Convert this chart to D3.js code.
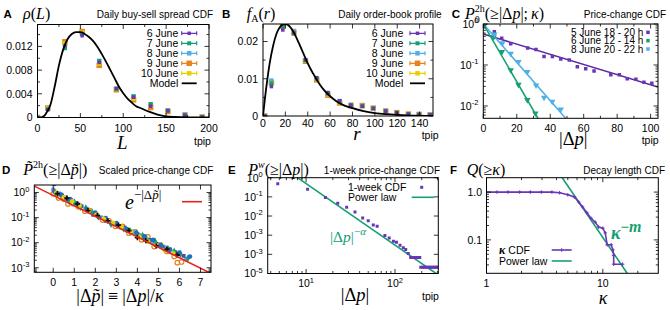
<!DOCTYPE html>
<html>
<head>
<meta charset="utf-8">
<script src="https://cdn.jsdelivr.net/npm/d3@7"></script>
<style>
  body { margin: 0; background: #fff; }
  svg { display: block; }
</style>
</head>
<body>
<script>
const d3 = window.d3;

// ---------------- data ----------------
// A: daily buy-sell spread distribution
const spreadL = [0, 12, 32, 52, 72, 92, 112, 132, 152, 172, 192];
const spreadJune6 = [0, 0.0013, 0.0121, 0.0138, 0.0093, 0.0049, 0.0034, 0.0019, 0.0011, 0.0004, 0.0001];
const spreadJune7 = [0, 0.0014, 0.0117, 0.0141, 0.0096, 0.0048, 0.0035, 0.0023, 0.0012, 0.0004, 0.0001];
const spreadJune8 = [0, 0.0015, 0.0123, 0.0142, 0.0095, 0.0049, 0.0036, 0.0022, 0.0012, 0.0005, 0.0001];
const spreadJune9 = [0, 0.0016, 0.0128, 0.0145, 0.0088, 0.0047, 0.0030, 0.0017, 0.0010, 0.0004, 0.0001];
const spreadJune10 = [0, 0.0015, 0.0125, 0.0143, 0.0091, 0.0048, 0.0032, 0.0020, 0.0011, 0.0004, 0.0001];
const spreadModelL = [0, 3, 8, 10, 15, 20, 25, 30, 35, 40, 45, 50, 55, 60, 65, 70, 75, 80, 85, 90, 95, 100, 105, 110, 115, 120, 130, 140, 150, 160, 180, 200];
const spreadModelRho = [0, 0, 0.0003, 0.0007, 0.0021, 0.0052, 0.0088, 0.0115, 0.0132, 0.0141, 0.0144, 0.0144, 0.0141, 0.0136, 0.0129, 0.0119, 0.0107, 0.0094, 0.0080, 0.0066, 0.0052, 0.0041, 0.0032, 0.0025, 0.0019, 0.0016, 0.0010, 0.0005, 0.0002, 0.0001, 0.00003, 0.00001];

// B: daily order-book profile
const profileR = [1.5, 7.5, 17.7, 27.6, 38, 48, 58, 68.5, 78.6, 88.8, 98.6, 109.7, 119.6, 130, 139.6, 149.4];
const profileJune6 = [0, 0.0079, 0.0231, 0.0224, 0.0151, 0.0103, 0.0063, 0.0041, 0.0029, 0.0026, 0.0020, 0.0013, 0.0009, 0.0005, 0.0004, 0.0003];
const profileJune7 = [0, 0.0088, 0.0240, 0.0221, 0.0149, 0.0100, 0.0060, 0.0039, 0.0029, 0.0027, 0.0021, 0.0014, 0.0009, 0.0005, 0.0004, 0.0003];
const profileJune8 = [0, 0.0095, 0.0242, 0.0228, 0.0150, 0.0100, 0.0061, 0.0040, 0.0030, 0.0027, 0.0020, 0.0013, 0.0009, 0.0005, 0.0004, 0.0003];
const profileJune9 = [0, 0.0089, 0.0241, 0.0224, 0.0147, 0.0097, 0.0056, 0.0035, 0.0028, 0.0028, 0.0021, 0.0013, 0.0009, 0.0005, 0.0004, 0.0003];
const profileJune10 = [0, 0.0088, 0.0240, 0.0223, 0.0148, 0.0099, 0.0058, 0.0037, 0.0029, 0.0027, 0.0020, 0.0013, 0.0009, 0.0005, 0.0004, 0.0003];
const profileModelR = [0, 3, 6, 9, 12, 15, 18, 21, 24, 28, 32, 36, 40, 45, 50, 55, 60, 65, 70, 80, 90, 100, 110, 120, 135, 152];
const profileModelF = [0, 0.0078, 0.0142, 0.0188, 0.0220, 0.0238, 0.0246, 0.0246, 0.0240, 0.0222, 0.0196, 0.0169, 0.0141, 0.0113, 0.0088, 0.0068, 0.0053, 0.0041, 0.0032, 0.0021, 0.0013, 0.0008, 0.0005, 0.0003, 0.0001, 0.00005];

// C: 2-hour price-change CDFs
const c5JuneDp = [6.6, 11, 16.4, 26.5, 31.5, 36.3, 41.3, 46.3, 51.4, 56.2, 61.2, 66.2, 76.2, 81.3, 86, 91.2, 96, 100.7];
const c5JuneP = [0.65, 0.45, 0.33, 0.26, 0.24, 0.16, 0.16, 0.14, 0.133, 0.091, 0.081, 0.071, 0.058, 0.058, 0.046, 0.045, 0.038, 0.036];
const c6JuneDp = [1, 6.2, 11.1, 16.4, 21, 26.3, 31.1];
const c6JuneP = [1.0, 0.48, 0.21, 0.075, 0.033, 0.014, 0.0066];
const c8JuneDp = [1, 6.6, 11.4, 16.4, 21, 26.3, 31.5, 36.3, 41.2, 46.3];
const c8JuneP = [1.0, 0.56, 0.34, 0.19, 0.12, 0.068, 0.032, 0.016, 0.0128, 0.0083];
const c5JuneFitDp = [0, 104.4];
const c5JuneFitP = [0.57, 0.029];
const c6JuneFitDp = [0, 32.7];
const c6JuneFitP = [1.0, 0.005];
const c8JuneFitDp = [0, 49.2];
const c8JuneFitP = [1.0, 0.005];

// D: scaled price-change CDFs, one list of [|dp~|, P~] per group of windows
const scaledPurple = [[0.05, 1.1], [0.35, 0.85], [0.6, 0.62], [0.85, 0.5], [1.1, 0.38], [1.35, 0.28], [1.6, 0.2], [1.9, 0.13], [2.2, 0.1], [2.5, 0.075], [2.8, 0.06], [3.1, 0.045], [3.4, 0.04], [3.7, 0.026], [4.0, 0.022], [4.3, 0.016], [4.6, 0.013], [4.9, 0.009], [5.2, 0.007], [5.5, 0.005], [5.8, 0.0042], [6.2, 0.003]];
const scaledGreen = [[0.1, 0.95], [0.45, 0.7], [0.75, 0.45], [1.0, 0.42], [1.3, 0.26], [1.55, 0.24], [1.85, 0.16], [2.15, 0.11], [2.45, 0.085], [2.75, 0.055], [3.05, 0.052], [3.35, 0.036], [3.65, 0.03], [3.95, 0.024], [4.25, 0.019], [4.55, 0.012], [4.85, 0.011], [5.15, 0.0075], [5.45, 0.0058], [5.75, 0.0045], [6.05, 0.0035], [6.4, 0.0024]];
const scaledSky = [[0.0, 1.3], [0.3, 0.9], [0.55, 0.55], [0.8, 0.47], [1.05, 0.33], [1.3, 0.3], [1.6, 0.21], [1.95, 0.15], [2.3, 0.1], [2.6, 0.07], [2.9, 0.056], [3.2, 0.04], [3.5, 0.03], [3.8, 0.028], [4.1, 0.02], [4.4, 0.015], [4.7, 0.01], [5.0, 0.0085], [5.3, 0.0065], [5.6, 0.0042], [5.9, 0.0036], [6.3, 0.0022]];
const scaledOrange = [[0.0, 0.9], [0.25, 0.6], [0.5, 0.55], [0.7, 0.35], [0.95, 0.36], [1.2, 0.27], [1.5, 0.18], [1.75, 0.19], [2.05, 0.13], [2.35, 0.08], [2.65, 0.075], [2.95, 0.045], [3.3, 0.045], [3.6, 0.024], [3.9, 0.027], [4.2, 0.013], [4.5, 0.017], [4.8, 0.007], [5.1, 0.008], [5.4, 0.0045], [5.75, 0.0028], [5.9, 0.0016], [6.1, 0.0017]];
const scaledYellow = [[0.15, 1.0], [0.5, 0.65], [0.9, 0.45], [1.25, 0.3], [1.7, 0.19], [2.05, 0.13], [2.4, 0.09], [2.85, 0.062], [3.25, 0.042], [3.7, 0.028], [4.1, 0.017], [4.5, 0.011], [4.9, 0.008], [5.3, 0.005], [5.7, 0.0038]];
const scaledBlack = [[0.2, 0.9], [0.65, 0.6], [1.15, 0.35], [1.65, 0.19], [2.1, 0.12], [2.6, 0.075], [3.1, 0.05], [3.6, 0.03], [4.0, 0.016], [4.4, 0.012], [4.9, 0.0075], [5.4, 0.0055], [5.9, 0.0032]];
const scaledBlue = [[0.05, 2.2], [0.4, 0.8], [0.8, 0.55], [1.2, 0.33], [1.6, 0.22], [2.0, 0.16], [2.5, 0.095], [3.0, 0.06], [3.5, 0.035], [3.95, 0.025], [4.35, 0.018], [4.75, 0.013], [5.1, 0.008], [5.55, 0.0055], [6.0, 0.004], [6.5, 0.0028]];
const scaledExpX = [-0.9, 7.5];
const scaledExpY = [1.8, 0.0006];

// E: 1-week price-change CDF
const weekDp = [4.8, 10.4, 16.5, 22.7, 28.6, 35.5, 43.3, 50, 57, 63, 77, 86, 96, 104, 114, 124, 132, 141,
  150, 155, 160, 165, 170, 175, 180, 185, 190,
  195, 205, 215, 225, 235, 245, 255, 265, 275, 285, 295, 305];
const weekP = [0.49, 0.25, 0.092, 0.047, 0.029, 0.016, 0.0079, 0.0057, 0.0034, 0.0029, 0.00095, 0.00072, 0.00048, 0.00043, 0.0003, 0.00022, 0.00018, 0.00011,
  6.8e-5, 6.8e-5, 6.8e-5, 6.8e-5, 6.8e-5, 6.8e-5, 6.8e-5, 6.8e-5, 6.8e-5,
  2.1e-5, 2.1e-5, 2.1e-5, 2.1e-5, 2.1e-5, 2.1e-5, 2.1e-5, 2.1e-5, 2.1e-5, 2.1e-5, 2.1e-5, 2.1e-5];
const weekPowDp = [8, 290];
const weekPowP = [1, 1e-5];
const weekYTickExp = ['0', '-1', '-2', '-3', '-3', '-5'];

// F: decay length CDF
const kappaVals = [1.0, 1.23, 1.53, 1.93, 2.38, 2.96, 3.65, 4.25, 5.0, 5.7, 6.2, 6.7, 7.3, 7.9, 8.6, 9.2, 10.0, 10.5, 10.9, 11.8, 12.2, 12.4, 12.4, 14.8];
const kappaQ = [1, 1, 1, 1, 1, 1, 1, 0.97, 0.88, 0.79, 0.62, 0.49, 0.37, 0.285, 0.235, 0.185, 0.176, 0.14, 0.079, 0.079, 0.062, 0.047, 0.031, 0.031];
const kappaPowK = [4.48, 16.2];
const kappaPowQ = [2, 0.02];

const dayNames = ['6 June', '7 June', '8 June', '9 June', '10 June'];
const windowNames = ['5 June 18 - 20 h', '6 June 12 - 14 h', '8 June 20 - 22 h'];

// ---------------- styles ----------------
const SANS = '"Liberation Sans", Arial, Helvetica, sans-serif';
const SERIF = '"Liberation Serif", "Times New Roman", serif';
const PURPLE = '#6a35b8';
const GREEN = '#14a070';
const SKY = '#4fb0e8';
const ORANGE = '#e6841c';
const YELLOW = '#e8cf00';
const DAY_COLORS = [PURPLE, GREEN, SKY, ORANGE, YELLOW];
const DAY_SIZES = [3.5, 4, 4.5, 5.5, 4.5];

const svg = d3.select('body').append('svg').attr('width', 670).attr('height', 310);

let clipCount = 0;
const makePanel = (box) => {
  const g = svg.append('g');
  const id = 'clip' + clipCount++;
  g.append('clipPath').attr('id', id).append('rect')
    .attr('x', box.x0).attr('y', box.y0)
    .attr('width', box.x1 - box.x0).attr('height', box.y1 - box.y0);
  const plot = g.append('g').attr('clip-path', `url(#${id})`);
  return { g, plot };
};

const logMinor = (lo, hi) => {
  const out = [];
  for (let e = Math.floor(Math.log10(lo)); e <= Math.ceil(Math.log10(hi)); e++) {
    for (let k = 2; k <= 9; k++) {
      const v = k * Math.pow(10, e);
      if (v > lo && v < hi) out.push(v);
    }
  }
  return out;
};

const drawTicks = (g, box, x, y, spec) => {
  let p = '';
  const tx = (vals, len) => (vals || []).forEach((v) => {
    const px = x(v);
    p += `M${px},${box.y1}V${box.y1 - len}M${px},${box.y0}V${box.y0 + len}`;
  });
  const ty = (vals, len) => (vals || []).forEach((v) => {
    const py = y(v);
    p += `M${box.x0},${py}H${box.x0 + len}M${box.x1},${py}H${box.x1 - len}`;
  });
  tx(spec.xMajor, 4.5); tx(spec.xMinor, 2.5);
  ty(spec.yMajor, 4.5); ty(spec.yMinor, 2.5);
  g.append('path').attr('d', p).attr('stroke', '#000').attr('stroke-width', 0.8).attr('fill', 'none');
  g.append('rect').attr('x', box.x0).attr('y', box.y0)
    .attr('width', box.x1 - box.x0).attr('height', box.y1 - box.y0)
    .attr('fill', 'none').attr('stroke', '#000').attr('stroke-width', 1);
};

const plainText = (g, x, y, str, o = {}) => g.append('text')
  .attr('x', x).attr('y', y)
  .attr('font-family', o.serif ? SERIF : SANS)
  .attr('font-size', o.size || 10.5)
  .attr('font-style', o.it ? 'italic' : 'normal')
  .attr('font-weight', o.bold ? 'bold' : 'normal')
  .attr('text-anchor', o.anchor || 'start')
  .attr('fill', o.fill || '#000')
  .text(str);

// text built from pieces: sub/superscripts, stacked pieces (hold)
const rich = (parent, x, y, parts, opt = {}) => {
  const grp = parent.append('g');
  let cx = 0, held = 0;
  parts.forEach((p) => {
    const t = grp.append('text')
      .attr('x', cx).attr('y', p.dy || 0)
      .attr('font-family', p.sans || opt.sans ? SANS : SERIF)
      .attr('font-size', p.size || opt.size || 16)
      .attr('font-style', p.it ? 'italic' : 'normal')
      .attr('font-weight', p.bold || opt.bold ? 'bold' : 'normal')
      .attr('fill', opt.fill || '#000')
      .text(p.t);
    const w = t.node().getComputedTextLength() + (p.gap || 0);
    if (p.hold) held = Math.max(held, w);
    else { cx += Math.max(w, held); held = 0; }
  });
  const shift = opt.anchor === 'end' ? cx : opt.anchor === 'middle' ? cx / 2 : 0;
  grp.attr('transform', `translate(${x - shift},${y})`);
  return grp;
};

const powLabel = (g, x, y, exp, anchor) => rich(g, x, y, [
  { t: '10' }, { t: exp, size: 7.5, dy: -4.5 },
], { sans: true, size: 10.5, anchor });

const header = (letter, lx, mathX, parts, title, titleEnd, base) => {
  plainText(svg, lx, base, letter, { bold: true, size: 11.5 });
  rich(svg, mathX, base + 0.5, parts, { size: 16 });
  plainText(svg, titleEnd, base - 0.5, title, { size: 10, anchor: 'end' });
};

const sym = (type, size) => d3.symbol().type(type).size(size * size)();

const pairs = (xs, ys) => xs.map((v, i) => [v, ys[i]]);

const drawMarkers = (g, data, x, y, shape, color, opt = {}) => {
  g.append('g').selectAll('path').data(data).join('path')
    .attr('transform', (d) => `translate(${x(d[0])},${y(d[1])})${opt.rotate ? 'rotate(180)' : ''}`)
    .attr('d', shape)
    .attr('fill', opt.hollow ? 'none' : color)
    .attr('stroke', opt.hollow || opt.stroke ? color : 'none')
    .attr('stroke-width', opt.sw || 1.1);
};

const drawLine = (g, data, x, y, color, width, curve) => {
  const line = d3.line().x((d) => x(d[0])).y((d) => y(d[1]));
  if (curve) line.curve(curve);
  g.append('path').datum(data).attr('d', line)
    .attr('fill', 'none').attr('stroke', color).attr('stroke-width', width);
};

// legend row for the daily panels: errorbar-like sample with a square
const dayLegend = (g, textEnd, x0, x1, cy, label, color, size) => {
  plainText(g, textEnd, cy + 3.8, label, { size: 10.5, anchor: 'end' });
  g.append('path').attr('d', `M${x0},${cy}H${x1}M${x0},${cy - 2}V${cy + 2}M${x1},${cy - 2}V${cy + 2}`)
    .attr('stroke', color).attr('stroke-width', 1.2).attr('fill', 'none');
  g.append('path').attr('transform', `translate(${(x0 + x1) / 2},${cy})`)
    .attr('d', sym(d3.symbolSquare, size)).attr('fill', color);
};

// ================= Panel A =================
{
  const box = { x0: 37.5, x1: 209, y0: 24.5, y1: 117.5 };
  const x = d3.scaleLinear().domain([0, 200]).range([box.x0, box.x1]);
  const y = d3.scaleLinear().domain([0, 0.0157]).range([box.y1, box.y0]);
  const { g, plot } = makePanel(box);
  const days = [spreadJune6, spreadJune7, spreadJune8, spreadJune9, spreadJune10];
  [3, 2, 4, 1, 0].forEach((k) => {
    drawMarkers(plot, pairs(spreadL, days[k]), x, y, sym(d3.symbolSquare, DAY_SIZES[k]), DAY_COLORS[k]);
  });
  drawLine(plot, pairs(spreadModelL, spreadModelRho), x, y, '#000', 1.8, d3.curveMonotoneX);
  drawTicks(g, box, x, y, {
    xMajor: [0, 50, 100, 150, 200], xMinor: [25, 75, 125, 175],
    yMajor: [0, 0.004, 0.008, 0.012], yMinor: [0.002, 0.006, 0.010, 0.014],
  });
  [0, 50, 100, 150, 200].forEach((v) => plainText(g, x(v), box.y1 + 14, String(v), { anchor: 'middle' }));
  [[0, '0'], [0.004, '0.004'], [0.008, '0.008'], [0.012, '0.012']].forEach(([v, s]) =>
    plainText(g, box.x0 - 5, y(v) + 3.8, s, { anchor: 'end' }));
  dayNames.forEach((n, i) => dayLegend(g, 178.3, 181.7, 196.7, 33.3 + 10 * i, n, DAY_COLORS[i], DAY_SIZES[i]));
  plainText(g, 178.3, 83.3 + 3.8, 'Model', { anchor: 'end' });
  g.append('path').attr('d', 'M181.7,83.3H196.7').attr('stroke', '#000').attr('stroke-width', 1.8);
  plainText(g, 122.3, 149, 'L', { serif: true, it: true, size: 19, anchor: 'middle' });
  plainText(g, 194, 144.5, 'tpip');
  header('A', 3.5, 23, [{ t: 'ρ', it: true }, { t: '(' }, { t: 'L', it: true }, { t: ')' }],
    'Daily buy-sell spread CDF', 213, 18);
}

// ================= Panel B =================
{
  const box = { x0: 263, x1: 433, y0: 24, y1: 116 };
  const x = d3.scaleLinear().domain([0, 152]).range([box.x0, box.x1]);
  const y = d3.scaleLinear().domain([0, 0.0247]).range([box.y1, box.y0]);
  const { g, plot } = makePanel(box);
  const days = [profileJune6, profileJune7, profileJune8, profileJune9, profileJune10];
  [3, 2, 4, 1, 0].forEach((k) => {
    drawMarkers(plot, pairs(profileR, days[k]), x, y, sym(d3.symbolSquare, DAY_SIZES[k]), DAY_COLORS[k]);
  });
  drawLine(plot, pairs(profileModelR, profileModelF), x, y, '#000', 1.8, d3.curveMonotoneX);
  const xt = [0, 20, 40, 60, 80, 100, 120, 140];
  drawTicks(g, box, x, y, { xMajor: xt, yMajor: [0, 0.01, 0.02], yMinor: [0.005, 0.015] });
  xt.forEach((v) => plainText(g, x(v), box.y1 + 11, String(v), { anchor: 'middle' }));
  [[0, '0'], [0.01, '0.01'], [0.02, '0.02']].forEach(([v, s]) =>
    plainText(g, box.x0 - 5, y(v) + 3.8, s, { anchor: 'end' }));
  dayNames.forEach((n, i) => dayLegend(g, 403.3, 410, 425, 33.3 + 10 * i, n, DAY_COLORS[i], DAY_SIZES[i]));
  plainText(g, 403.3, 83.3 + 3.8, 'Model', { anchor: 'end' });
  g.append('path').attr('d', 'M410,83.3H425').attr('stroke', '#000').attr('stroke-width', 1.8);
  plainText(g, 357, 139.5, 'r', { serif: true, it: true, size: 19, anchor: 'middle' });
  plainText(g, 421.7, 139, 'tpip');
  header('B', 222, 246.7, [{ t: 'f', it: true }, { t: 'A', size: 10, dy: 3 }, { t: '(' }, { t: 'r', it: true }, { t: ')' }],
    'Daily order-book profile', 441.7, 18);
}

// ================= Panel C =================
{
  const box = { x0: 483.3, x1: 658, y0: 24, y1: 118.3 };
  const x = d3.scaleLinear().domain([0, 104.4]).range([box.x0, box.x1]);
  const y = d3.scaleLog().domain([0.005, 1]).range([box.y1, box.y0]);
  const { g, plot } = makePanel(box);
  drawLine(plot, pairs(c5JuneFitDp, c5JuneFitP), x, y, '#5a2aa0', 1.6);
  drawLine(plot, pairs(c6JuneFitDp, c6JuneFitP), x, y, GREEN, 1.6);
  drawLine(plot, pairs(c8JuneFitDp, c8JuneFitP), x, y, SKY, 1.6);
  drawMarkers(plot, pairs(c5JuneDp, c5JuneP), x, y, sym(d3.symbolSquare, 3.5), PURPLE);
  drawMarkers(plot, pairs(c6JuneDp, c6JuneP), x, y, d3.symbol().type(d3.symbolTriangle).size(18)(), GREEN, { rotate: true });
  drawMarkers(plot, pairs(c8JuneDp, c8JuneP), x, y, d3.symbol().type(d3.symbolTriangle).size(18)(), SKY, { rotate: true });
  const xt = [0, 20, 40, 60, 80, 100];
  drawTicks(g, box, x, y, {
    xMajor: xt, xMinor: [10, 30, 50, 70, 90],
    yMajor: [1, 0.1, 0.01], yMinor: logMinor(0.005, 1),
  });
  xt.forEach((v) => plainText(g, x(v), box.y1 + 14, String(v), { anchor: 'middle' }));
  [[1, '0'], [0.1, '-1'], [0.01, '-2']].forEach(([v, e]) => powLabel(g, box.x0 - 5, y(v) + 3.8, e, 'end'));
  const legColors = [PURPLE, GREEN, SKY];
  windowNames.forEach((n, i) => {
    const cy = 32.3 + 8.35 * i;
    plainText(g, 643.3, cy + 3.6, n, { size: 10, anchor: 'end' });
    g.append('path').attr('transform', `translate(648,${cy})`).attr('d', sym(d3.symbolSquare, 3.5)).attr('fill', legColors[i]);
  });
  rich(g, 573.3, 144.5, [{ t: '|Δ' }, { t: 'p', it: true }, { t: '|' }], { size: 18.5, anchor: 'middle' });
  plainText(g, 641.7, 144, 'tpip');
  header('C', 451.7, 465, [
    { t: 'P', it: true }, { t: '2h', size: 10, dy: -7, hold: true }, { t: '0', size: 10, dy: 4 },
    { t: '(≥|Δ' }, { t: 'p', it: true }, { t: '|;', gap: 3 }, { t: 'κ', it: true }, { t: ')' },
  ], 'Price-change CDF', 666, 18);
}

// ================= Panel D =================
{
  const box = { x0: 34.3, x1: 211, y0: 185, y1: 272.3 };
  const x = d3.scaleLinear().domain([-0.9, 7.5]).range([box.x0, box.x1]);
  const y = d3.scaleLog().domain([Math.pow(10, -3.18), Math.pow(10, 0.3)]).range([box.y1, box.y0]);
  const { g, plot } = makePanel(box);
  const circle = d3.symbol().type(d3.symbolCircle).size(17)();
  const diamond = d3.symbol().type(d3.symbolDiamond).size(17)();
  drawMarkers(plot, scaledOrange, x, y, d3.symbol().type(d3.symbolCircle).size(16)(), ORANGE, { hollow: true, sw: 1.2 });
  drawMarkers(plot, scaledSky, x, y, circle, SKY);
  drawMarkers(plot, scaledPurple, x, y, sym(d3.symbolSquare, 3.8), PURPLE);
  drawMarkers(plot, scaledGreen, x, y, diamond, GREEN);
  drawMarkers(plot, scaledBlue, x, y, circle, '#1f6fb8');
  drawMarkers(plot, scaledYellow, x, y, circle, YELLOW);
  drawMarkers(plot, scaledBlack, x, y, d3.symbol().type(d3.symbolCross).size(15)(), '#111');
  drawLine(plot, pairs(scaledExpX, scaledExpY), x, y, '#e8231a', 1.6);
  const xt = [0, 1, 2, 3, 4, 5, 6, 7];
  drawTicks(g, box, x, y, {
    xMajor: xt, yMajor: [1, 0.1, 0.01, 0.001], yMinor: logMinor(Math.pow(10, -3.18), 2),
  });
  xt.forEach((v) => plainText(g, x(v), box.y1 + 14, String(v), { anchor: 'middle' }));
  [[1, '0'], [0.1, '-1'], [0.01, '-2'], [0.001, '-3']].forEach(([v, e]) => powLabel(g, box.x0 - 5, y(v) + 3.8, e, 'end'));
  rich(g, 125, 209, [
    { t: 'e', it: true, size: 20 }, { t: '−|Δ', size: 13, dy: -10 }, { t: 'p̃', it: true, size: 13, dy: -10 }, { t: '|', size: 13, dy: -10 },
  ]);
  g.append('path').attr('d', 'M182,201.7H202').attr('stroke', '#e8231a').attr('stroke-width', 1.6);
  rich(g, 120, 302, [
    { t: '|Δ' }, { t: 'p̃', it: true }, { t: '|', gap: 4 }, { t: '≡', gap: 4 }, { t: '|Δ' }, { t: 'p', it: true }, { t: '|/' }, { t: 'κ', it: true },
  ], { size: 18, anchor: 'middle' });
  header('D', 2, 23.3, [
    { t: 'P̃', it: true }, { t: '2h', size: 10, dy: -7 }, { t: '(≥|Δ' }, { t: 'p̃', it: true }, { t: '|)' },
  ], 'Scaled price-change CDF', 213.3, 174);
}

// ================= Panel E =================
{
  const box = { x0: 267.7, x1: 438.3, y0: 177.7, y1: 273.5 };
  const x = d3.scaleLog().domain([3.7, 307]).range([box.x0, box.x1]);
  const y = d3.scaleLog().domain([1e-5, 1]).range([box.y1, box.y0]);
  const { g, plot } = makePanel(box);
  drawLine(plot, pairs(weekPowDp, weekPowP), x, y, GREEN, 1.6);
  drawMarkers(plot, pairs(weekDp, weekP), x, y, sym(d3.symbolSquare, 3), PURPLE);
  const yDec = [1, 0.1, 0.01, 0.001, 1e-4, 1e-5];
  drawTicks(g, box, x, y, { xMajor: [10, 100], xMinor: logMinor(3.7, 307), yMajor: yDec });
  [[10, '1'], [100, '2']].forEach(([v, e]) => powLabel(g, x(v), box.y1 + 13.5, e, 'middle'));
  yDec.forEach((v, i) => powLabel(g, box.x0 - 5, y(v) + 3.8, weekYTickExp[i], 'end'));
  plainText(g, 348, 191, '1-week CDF');
  g.append('path').attr('transform', 'translate(421.7,187.3)').attr('d', sym(d3.symbolSquare, 3)).attr('fill', PURPLE);
  plainText(g, 348, 201, 'Power law');
  g.append('path').attr('d', 'M411.7,197.3H434').attr('stroke', GREEN).attr('stroke-width', 1.6);
  rich(g, 330, 242, [
    { t: '|Δ' }, { t: 'p', it: true }, { t: '|' }, { t: '−', size: 11, dy: -7 }, { t: 'α', it: true, size: 11, dy: -7 },
  ], { size: 15.5, fill: GREEN });
  rich(g, 355, 301, [{ t: '|Δ' }, { t: 'p', it: true }, { t: '|' }], { size: 18.5, anchor: 'middle' });
  plainText(g, 422, 299.5, 'tpip');
  header('E', 228, 248.3, [
    { t: 'P', it: true }, { t: 'w', it: true, size: 10, dy: -7 }, { t: '(≥|Δ' }, { t: 'p', it: true }, { t: '|)' },
  ], '1-week price-change CDF', 440, 174);
}

// ================= Panel F =================
{
  const box = { x0: 486.5, x1: 658.3, y0: 177.7, y1: 273.3 };
  const x = d3.scaleLog().domain([1, 30]).range([box.x0, box.x1]);
  const y = d3.scaleLog().domain([0.02, 2]).range([box.y1, box.y0]);
  const { g, plot } = makePanel(box);
  drawLine(plot, pairs(kappaPowK, kappaPowQ), x, y, GREEN, 1.6);
  drawLine(plot, pairs(kappaVals, kappaQ), x, y, PURPLE, 1.6);
  drawMarkers(plot, pairs(kappaVals, kappaQ), x, y, 'M-1.8,0H1.8M0,-1.8V1.8', PURPLE, { stroke: true, sw: 1 });
  drawTicks(g, box, x, y, {
    xMajor: [1, 10], xMinor: logMinor(1, 30), yMajor: [1, 0.1], yMinor: logMinor(0.02, 2),
  });
  [[1, '1'], [10, '10']].forEach(([v, s]) => plainText(g, x(v), box.y1 + 13.5, s, { anchor: 'middle' }));
  [[1, '1.0'], [0.1, '0.1']].forEach(([v, s]) => plainText(g, box.x0 - 4.5, y(v) + 3.8, s, { anchor: 'end' }));
  rich(g, 499, 253.7, [{ t: 'κ', it: true, bold: true, size: 12, gap: 3 }, { t: 'CDF', sans: true }], { size: 10.5 });
  g.append('path').attr('d', 'M551.7,250H571.7').attr('stroke', PURPLE).attr('stroke-width', 1.6);
  g.append('path').attr('d', 'M561.7,248.2V251.8').attr('stroke', PURPLE).attr('stroke-width', 1);
  plainText(g, 499, 264.7, 'Power law');
  g.append('path').attr('d', 'M551.7,261H571.7').attr('stroke', GREEN).attr('stroke-width', 1.6);
  rich(g, 611, 239, [
    { t: 'κ', it: true, size: 18 }, { t: '−', size: 15, dy: -7 }, { t: 'm', it: true, size: 16, dy: -7 },
  ], { bold: true, fill: GREEN });
  plainText(g, 603, 304, 'κ', { serif: true, it: true, size: 18, anchor: 'middle' });
  header('F', 450, 466.7, [{ t: 'Q', it: true }, { t: '(≥' }, { t: 'κ', it: true }, { t: ')' }],
    'Decay length CDF', 665, 174);
}
</script>
</body>
</html>
